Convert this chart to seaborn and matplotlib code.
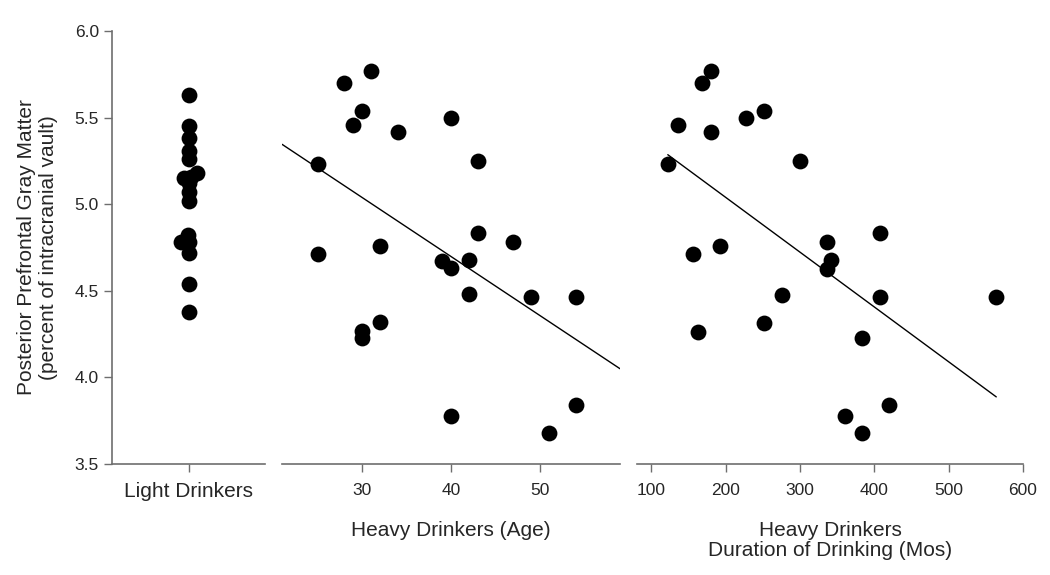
import numpy as np
import pandas as pd
import seaborn as sns
import matplotlib
matplotlib.use('Agg')
import matplotlib.pyplot as plt

# light drinkers gray matter values
light_gm = [5.63, 5.45, 5.38, 5.31, 5.26, 5.16, 5.15, 5.18, 5.12, 5.07, 5.02,
            4.82, 4.78, 4.78, 4.72, 4.54, 4.38]

# heavy drinkers: age vs gray matter
age = [31, 28, 30, 29, 34, 40, 25, 43, 43, 47, 32, 25, 39, 42, 40, 42, 49, 54,
       32, 30, 30, 54, 40, 51]
age_gm = [5.77, 5.70, 5.54, 5.46, 5.415, 5.50, 5.23, 5.25, 4.835, 4.78, 4.76,
          4.71, 4.67, 4.68, 4.63, 4.48, 4.465, 4.465, 4.32, 4.27, 4.23, 3.84,
          3.78, 3.68]

# heavy drinkers: duration of drinking (months) vs gray matter
duration = [180, 168, 252, 136, 180, 227, 122, 300, 408, 336, 192, 156, 341,
            336, 276, 408, 564, 252, 162, 383, 420, 360, 384]
dur_gm = [5.77, 5.70, 5.54, 5.46, 5.415, 5.50, 5.23, 5.25, 4.835, 4.78, 4.76,
          4.71, 4.678, 4.628, 4.476, 4.465, 4.465, 4.316, 4.26, 4.226, 3.839,
          3.777, 3.677]

sns.set_style('white')
plt.rcParams['font.family'] = ['Liberation Sans', 'DejaVu Sans']

spine_col = '#6e6e6e'
lab_fs = 15
fig = plt.figure(figsize=(10.5, 5.75), dpi=100)
ax1 = fig.add_axes([0.1067, 0.193, 0.1457, 0.753])
ax2 = fig.add_axes([0.2686, 0.193, 0.3219, 0.753], sharey=ax1)
ax3 = fig.add_axes([0.6067, 0.193, 0.3676, 0.753], sharey=ax1)

# light drinkers: lay out a tight swarm, then freeze it and enlarge the dots
df_light = pd.DataFrame({'group': 'Light Drinkers', 'gm': light_gm})
ax1.set_ylim(3.5, 6.0)
sns.swarmplot(data=df_light, x='group', y='gm', ax=ax1, color='black',
              size=5, linewidth=0)
ax1.set_xlim(-0.5, 0.5)
ax1.set_ylim(3.5, 6.0)
fig.canvas.draw()
for coll in ax1.collections:
    if 'draw' in coll.__dict__:
        del coll.draw
    coll.set_sizes([130])
ax1.set_yticks([3.5, 4.0, 4.5, 5.0, 5.5, 6.0])
ax1.set_yticklabels(['3.5', '4.0', '4.5', '5.0', '5.5', '6.0'])
ax1.set_xlabel('')
ax1.set_ylabel('Posterior Prefrontal Gray Matter\n(percent of intracranial vault)',
               fontsize=lab_fs, labelpad=12)

# age panel
ax2.set_xlim(21, 59)
sns.regplot(x=age, y=age_gm, ax=ax2, ci=None, truncate=False,
            scatter_kws=dict(color='black', s=130, linewidths=0, alpha=1),
            line_kws=dict(color='black', lw=1))
ax2.set_xlim(21, 59)
ax2.set_xticks([30, 40, 50])
ax2.set_xlabel('Heavy Drinkers (Age)', fontsize=lab_fs, labelpad=16)

# duration panel
sns.regplot(x=duration, y=dur_gm, ax=ax3, ci=None, truncate=True,
            scatter_kws=dict(color='black', s=130, linewidths=0, alpha=1),
            line_kws=dict(color='black', lw=1))
ax3.set_xlim(80.6, 600)
ax3.set_xticks([100, 200, 300, 400, 500, 600])
ax3.set_xlabel('Heavy Drinkers\nDuration of Drinking (Mos)', fontsize=lab_fs,
               labelpad=16, linespacing=1.1)

for ax in (ax1, ax2, ax3):
    for side in ('top', 'right'):
        ax.spines[side].set_visible(False)
    ax.spines['bottom'].set_color(spine_col)
    ax.spines['bottom'].set_linewidth(1.2)
    ax.tick_params(axis='x', direction='out', length=6, width=1,
                   color=spine_col, labelsize=12.5, pad=8, bottom=True)
    ax.set_ylim(3.5, 6.0)

ax1.spines['left'].set_color(spine_col)
ax1.spines['left'].set_linewidth(1.2)
ax1.tick_params(axis='y', direction='out', length=6, width=1,
                color=spine_col, labelsize=12.5, left=True)
ax1.tick_params(axis='x', labelsize=lab_fs, pad=7)
for ax in (ax2, ax3):
    ax.spines['left'].set_visible(False)
    ax.tick_params(axis='y', left=False, labelleft=False)

fig.savefig('out.png', dpi=100)
